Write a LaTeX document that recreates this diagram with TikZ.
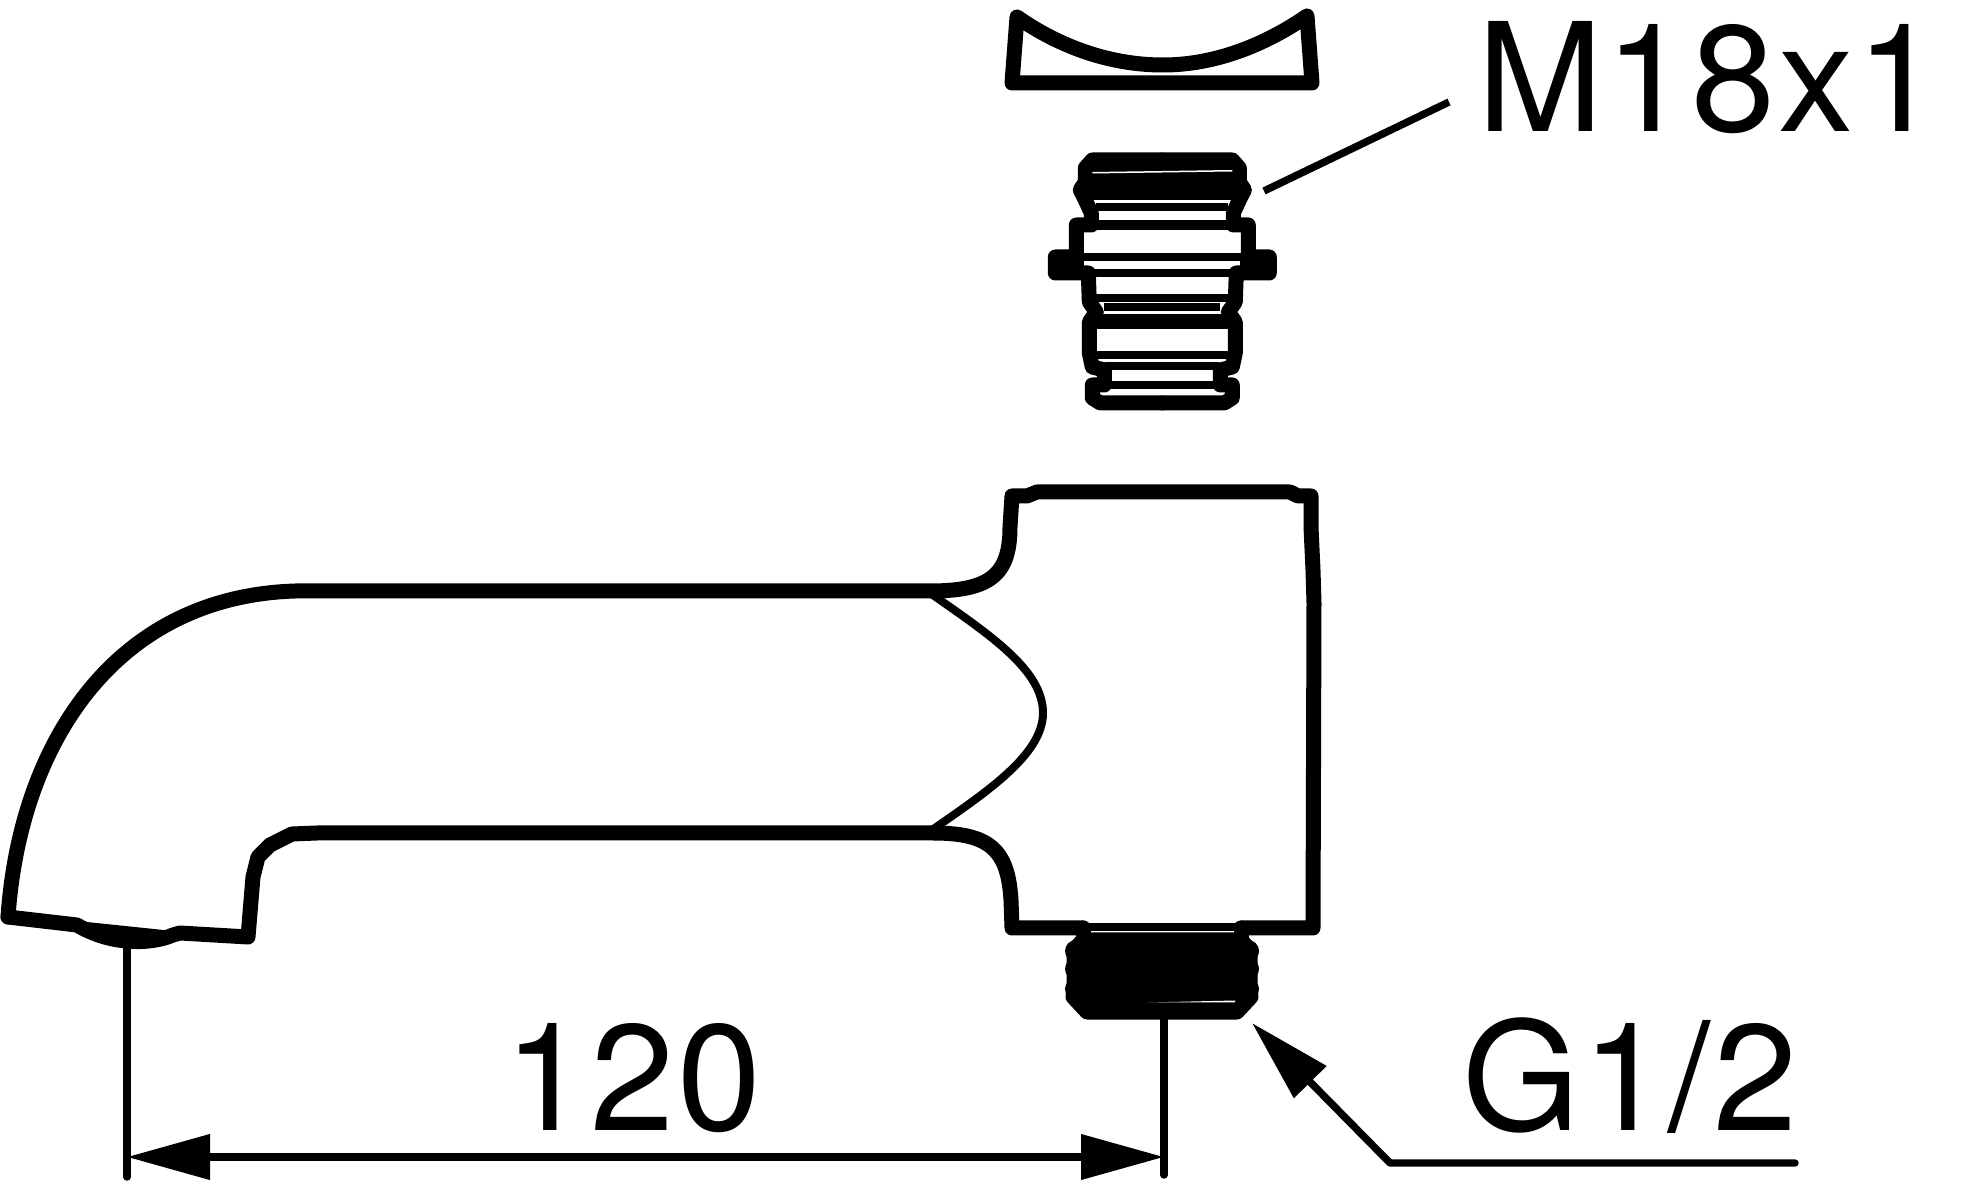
\documentclass[tikz,border=0pt]{standalone}
\usepackage{fontspec}
\setmainfont{TeX Gyre Heros}[LetterSpace=1.6]
\usetikzlibrary{arrows.meta}
\tikzset{
  heavy/.style={line width=7.5pt,line join=round,line cap=round},
  medium/.style={line width=4pt},
  slim/.style={line width=4pt},
  dimline/.style={line width=3.7pt},
  label/.style={inner sep=0pt,anchor=base west,font=\fontsize{75.5}{80}\selectfont},
  >={Triangle[length=41.5pt,width=22pt]}
}
\begin{document}
\begin{tikzpicture}[x=0.5pt,y=-0.5pt]
  \useasboundingbox (0,0) rectangle (1978,1181);
  % cap
  \draw [heavy] (1012,83) -- (1017,17) .. controls (1060,47) and (1110,65) .. (1163,65)
    .. controls (1215,65) and (1265,45) .. (1307,16) -- (1312,83) -- cycle;
  % insert
  \begin{scope}[shift={(1162.3,0)}]
    \foreach \s in {1,-1} {
      \begin{scope}[xscale=\s]
        \draw [heavy] (0,160) -- (70,160) -- (77,168) -- (77,182) -- (82,190) -- (77,200)
          -- (71,213) -- (71,225) -- (86,225) -- (86,257) -- (107,257) -- (107,273) -- (74,273)
          -- (73,302) -- (66,312) -- (73,322) -- (73,353) -- (70,367) -- (58,370) -- (58,385)
          -- (70,385) -- (70,398) -- (62,403) -- (0,403);
        \fill (78,257) rectangle (107,273);
        \fill (78,190) circle (11);
      \end{scope}
    }
    \fill (-80,160) rectangle (80,200);
    \fill [white] (-70,172) -- (70,170) -- (70,171.5) -- (-70,173.5) -- cycle;
    \draw [medium] (-66,207) -- (66,207);
    \draw [line width=5pt] (-71,225) -- (71,225);
    \draw [medium] (-82,257) -- (82,257);
    \draw [medium] (-74,273) -- (74,273);
    \draw [medium] (-66,298) -- (66,298);
    \draw [medium] (-58,307) -- (58,307);
    \draw [heavy] (-68,322) -- (68,322);
    \draw [medium] (-66,355) -- (66,355);
    \draw [medium] (-57,366) -- (57,366);
    \draw [medium] (-59,385) -- (59,385);
  \end{scope}
  % body
  \draw [heavy] (8,917) .. controls (20,740) and (120,585) .. (317,591) -- (930,591)
    .. controls (990,591) and (1010,575) .. (1010,527) -- (1012,496) -- (1027,496) -- (1037,492)
    -- (1290,492) -- (1298,496) -- (1311,496) -- (1311,527) -- (1313,570) -- (1314,603)
    -- (1313,928) -- (1241,928);
  \draw [heavy] (1083,928) -- (1012,928) -- (1011,900)
    .. controls (1008,850) and (990,833) .. (933,833) -- (317,833) -- (292,834) -- (270,845)
    -- (258,857) -- (253,877) -- (248,937) -- (180,933) -- (173,935)
    .. controls (150,945) and (110,945) .. (77,925) -- (8,917);
  \draw [medium] (77,925) -- (173,935);
  \draw [slim] (930,593) .. controls (990,635) and (1043,670) .. (1043,713)
    .. controls (1043,755) and (985,793) .. (932,830);
  % thread
  \draw [heavy,line width=4pt] (1083,927) -- (1241,927);
  \draw [heavy] (1083,928) -- (1083,940);
  \draw [heavy] (1241,928) -- (1241,940);
  \draw [heavy,fill] (1083,940) -- (1241,940) -- (1250,950) -- (1250,988) -- (1251,997)
    -- (1237,1012) -- (1087,1012) -- (1073,997) -- (1074,988) -- (1074,950) -- cycle;
  \foreach \y in {951,969,989} {
    \fill (1076,\y) circle (11);
    \fill (1248,\y) circle (11);
  }
  \fill [white] (1147,1002.5) -- (1235,1000.5) -- (1235,1002.5) -- cycle;
  % dimension
  \coordinate (endL) at (127,1157);
  \coordinate (endR) at (1164,1157);
  \coordinate (extLa) at (127,945);
  \coordinate (extLb) at (127,1177);
  \coordinate (extRa) at (1164,1014);
  \coordinate (extRb) at (1164,1175);
  \draw [dimline,line cap=round] (extLa) -- (extLb);
  \draw [dimline,line cap=round] (extRa) -- (extRb);
  \draw [dimline,<->] (endL) -- (endR);
  \node (width) [label] at (504,1130) {120};
  % leaders
  \node (metric) [label] at (1477,132) {M18x1};
  \coordinate (metricStart) at (1449,102);
  \coordinate (metricEnd) at (1264,191);
  \draw [dimline] (metricStart) -- (metricEnd);
  \node (pipe) [label] at (1462,1130) {G1/2};
  \coordinate (pipeEnd) at (1795,1163);
  \coordinate (pipeBend) at (1390,1163);
  \coordinate (pipeTip) at (1252,1023);
  \draw [dimline,line cap=round,line join=round,->] (pipeEnd) -- (pipeBend) -- (pipeTip);
\end{tikzpicture}
\end{document}
